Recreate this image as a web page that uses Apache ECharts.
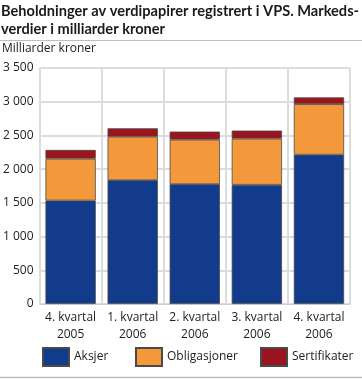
<!DOCTYPE html>
<html><head><meta charset="utf-8">
<script src="https://cdn.jsdelivr.net/npm/echarts@6/dist/echarts.min.js"></script>
<style>html,body{margin:0;padding:0;background:#fff}#c{width:362px;height:379px}</style>
</head><body><div id="c"></div>
<script>
const categories = ['4. kvartal\n2005','1. kvartal\n2006','2. kvartal\n2006','3. kvartal\n2006','4. kvartal\n2006'];
const aksjer = [1534, 1836, 1777, 1768, 2215];
const obligasjoner = [621, 647, 661, 685, 749];
const sertifikater = [130, 123, 119, 119, 100];
const yTicks = [0, 500, 1000, 1500, 2000, 2500, 3000, 3500];

const chart = echarts.init(document.getElementById('c'), null, {renderer:'canvas'});
const font = '"Open Sans", "DejaVu Sans", sans-serif';
function s(name, data, color){
  return {name, type:'bar', stack:'t', data, barCategoryGap:'19%',
    itemStyle:{color, borderColor:'#4a4a4a', borderWidth:0.8}};
}
const legendCommon = {bottom:12, itemWidth:26, itemHeight:18, padding:0, icon:'rect',
  textStyle:{fontSize:12, color:'#222', fontFamily:font}};
chart.setOption({
  animation:false,
  textStyle:{fontFamily:font},
  title:{text:'Beholdninger av verdipapirer registrert i VPS. Markeds-\nverdier i milliarder kroner',
    left:1, top:2, padding:0,
    textStyle:{fontSize:14.6, fontWeight:'bold', color:'#1a1a1a', lineHeight:18, fontFamily:'Lato, "Open Sans", sans-serif'}},
  graphic:[
    {type:'line', shape:{x1:0,y1:40.5,x2:362,y2:40.5}, style:{stroke:'#bdbdbd', lineWidth:1}},
    {type:'line', shape:{x1:0,y1:377.5,x2:362,y2:377.5}, style:{stroke:'#bdbdbd', lineWidth:1.5}},
    {type:'text', left:2, top:43, style:{text:'Milliarder kroner', fontSize:12, fill:'#222', fontFamily:font}}
  ],
  legend:[
    Object.assign({left:42, data:['Aksjer']}, legendCommon),
    Object.assign({left:135, data:['Obligasjoner']}, legendCommon),
    Object.assign({left:260, data:['Sertifikater']}, legendCommon)
  ],
  grid:{left:35, right:12, top:68, bottom:75},
  xAxis:{type:'category', data:categories,
    axisLine:{show:true, lineStyle:{color:'#cfcfcf'}}, axisTick:{show:false},
    splitLine:{show:true, lineStyle:{color:'#dcdcdc', width:2}},
    axisLabel:{fontSize:12, color:'#222', lineHeight:17, margin:5, interval:0}},
  yAxis:{type:'value', min:yTicks[0], max:yTicks[yTicks.length-1], interval:500,
    axisLine:{show:false}, axisTick:{show:false},
    splitLine:{lineStyle:{color:'#dcdcdc', width:2}},
    axisLabel:{fontSize:12, color:'#222', margin:6,
      formatter:v=>String(v).replace(/\B(?=(\d{3})+(?!\d))/g,' ')}},
  series:[s('Aksjer',aksjer,'#123b8c'), s('Obligasjoner',obligasjoner,'#f3993b'), s('Sertifikater',sertifikater,'#9c141d')]
});
</script></body></html>
